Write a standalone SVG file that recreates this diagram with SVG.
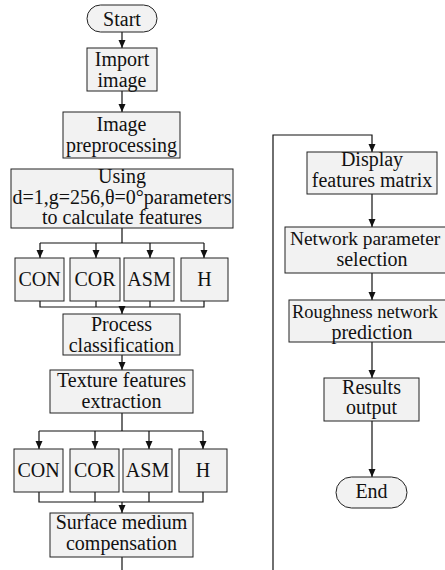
<svg xmlns="http://www.w3.org/2000/svg" width="445" height="570" viewBox="0 0 445 570">
<style>
.b{fill:#f2f2f2;stroke:#222;stroke-width:1}
.t{font-family:"Liberation Serif","Times New Roman","DejaVu Serif",serif;font-size:20px;fill:#111;text-anchor:middle}
.s{text-anchor:start}
.c{fill:none;stroke:#111;stroke-width:1.2}
</style>
<defs>
<marker id="ah" markerUnits="userSpaceOnUse" markerWidth="8" markerHeight="8" refX="8" refY="3.5" orient="auto">
<path d="M0,0 L8,3.5 L0,7 Z" fill="#111"/>
</marker>
</defs>
<rect width="445" height="570" fill="#fff"/>
<g id="connectors">
<path class="c" d="M122,32V48" marker-end="url(#ah)"/>
<path class="c" d="M122,91V112" marker-end="url(#ah)"/>
<path class="c" d="M122,228V243M40,243H204"/>
<path class="c" d="M40,243V258" marker-end="url(#ah)"/>
<path class="c" d="M96,243V258" marker-end="url(#ah)"/>
<path class="c" d="M150,243V258" marker-end="url(#ah)"/>
<path class="c" d="M204,243V258" marker-end="url(#ah)"/>
<path class="c" d="M40,301V307H204V301M96,301V307M150,301V307"/>
<path class="c" d="M122,307V314" marker-end="url(#ah)"/>
<path class="c" d="M122,355V370" marker-end="url(#ah)"/>
<path class="c" d="M122,413V431M39,431H203"/>
<path class="c" d="M39,431V449" marker-end="url(#ah)"/>
<path class="c" d="M95,431V449" marker-end="url(#ah)"/>
<path class="c" d="M149,431V449" marker-end="url(#ah)"/>
<path class="c" d="M203,431V449" marker-end="url(#ah)"/>
<path class="c" d="M39,492V502H203V492M95,492V502M149,492V502"/>
<path class="c" d="M122,502V513" marker-end="url(#ah)"/>
<path class="c" d="M122,557V570"/>
<path class="c" d="M273,570V135H372V152" marker-end="url(#ah)"/>
<path class="c" d="M372,194V227" marker-end="url(#ah)"/>
<path class="c" d="M372,273V300" marker-end="url(#ah)"/>
<path class="c" d="M372,342V378" marker-end="url(#ah)"/>
<path class="c" d="M372,421V477" marker-end="url(#ah)"/>
</g>
<g font-family="Liberation Serif, Times New Roman, DejaVu Serif, serif">
<g id="start"><rect class="b" x="87" y="5" width="70" height="27" rx="13.5"/><text class="t" x="122" y="26">Start</text></g>
<g id="import"><rect class="b" x="87" y="48" width="70" height="43"/><text class="t" x="122" y="66">Import</text><text class="t" x="122" y="87">image</text></g>
<g id="preprocess"><rect class="b" x="63" y="112" width="117" height="46"/><text class="t" x="121.5" y="131">Image</text><text class="t" x="121.5" y="152">preprocessing</text></g>
<g id="using"><rect class="b" x="11" y="169" width="222" height="59"/><text class="t" x="122" y="183">Using</text><text class="t" x="122" y="204">d=1,g=256,θ=0°parameters</text><text class="t" x="122" y="224">to calculate features</text></g>
<g id="con1"><rect class="b" x="15" y="258" width="49" height="43"/><text class="t" x="39.5" y="286">CON</text></g>
<g id="cor1"><rect class="b" x="70" y="258" width="50" height="43"/><text class="t" x="95" y="286">COR</text></g>
<g id="asm1"><rect class="b" x="124" y="258" width="50" height="43"/><text class="t" x="149" y="286">ASM</text></g>
<g id="h1"><rect class="b" x="181" y="258" width="47" height="43"/><text class="t" x="204.5" y="286">H</text></g>
<g id="process"><rect class="b" x="63" y="314" width="117" height="41"/><text class="t" x="121.5" y="331">Process</text><text class="t" x="121.5" y="352">classification</text></g>
<g id="texture"><rect class="b" x="50" y="370" width="143" height="43"/><text class="t" x="121.5" y="387">Texture features</text><text class="t" x="121.5" y="408">extraction</text></g>
<g id="con2"><rect class="b" x="14" y="449" width="49" height="43"/><text class="t" x="38.5" y="477">CON</text></g>
<g id="cor2"><rect class="b" x="70" y="449" width="49" height="43"/><text class="t" x="94.5" y="477">COR</text></g>
<g id="asm2"><rect class="b" x="123" y="449" width="49" height="43"/><text class="t" x="147.5" y="477">ASM</text></g>
<g id="h2"><rect class="b" x="179" y="449" width="48" height="43"/><text class="t" x="203" y="477">H</text></g>
<g id="surface"><rect class="b" x="50" y="513" width="143" height="44"/><text class="t" x="121.5" y="529">Surface medium</text><text class="t" x="121.5" y="550">compensation</text></g>
<g id="display"><rect class="b" x="307" y="152" width="130" height="42"/><text class="t" x="372" y="166">Display</text><text class="t" x="372" y="187">features matrix</text></g>
<g id="network"><rect class="b" x="285" y="227" width="175" height="46"/><text class="t s" x="290" y="245" style="font-size:19.4px">Network parameter</text><text class="t" x="372" y="266">selection</text></g>
<g id="roughness"><rect class="b" x="289" y="300" width="170" height="42"/><text class="t s" x="292" y="318" style="font-size:18.4px">Roughness network</text><text class="t" x="372" y="339">prediction</text></g>
<g id="results"><rect class="b" x="324" y="378" width="95" height="43"/><text class="t" x="371.5" y="394">Results</text><text class="t" x="371.5" y="414">output</text></g>
<g id="end"><rect class="b" x="336" y="477" width="71" height="31" rx="15.5"/><text class="t" x="371.5" y="498">End</text></g>
</g>
</svg>
